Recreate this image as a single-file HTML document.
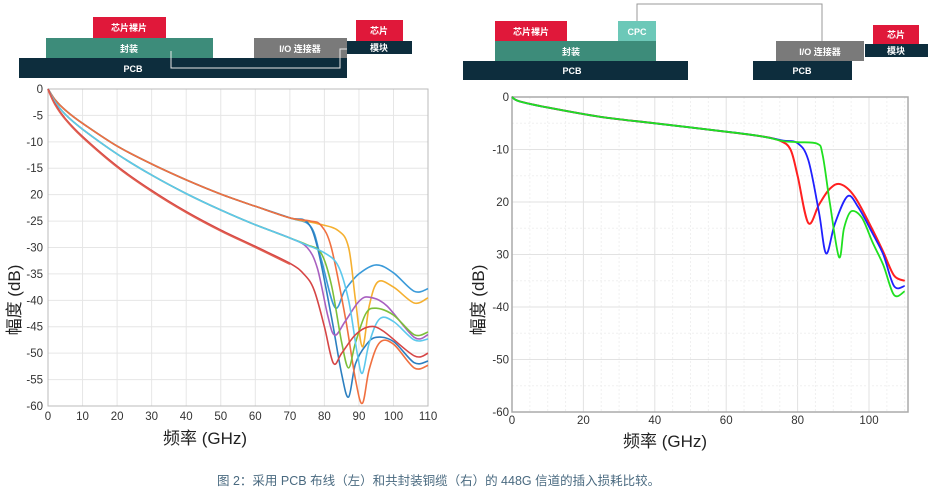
<!DOCTYPE html>
<html><head><meta charset="utf-8"><style>
html,body{margin:0;padding:0;background:#fff;width:932px;height:499px;overflow:hidden}
svg{display:block}
text{font-family:"Liberation Sans","Noto Sans CJK SC",sans-serif}
</style></head><body>
<svg id="s" width="932" height="499" viewBox="0 0 932 499" xmlns="http://www.w3.org/2000/svg">
<!-- left diagram -->
<rect x="93" y="17" width="73" height="21" fill="#e0183a"/>
<text x="129" y="31" font-size="9" fill="#fff" font-weight="bold" text-anchor="middle">芯片裸片</text>
<rect x="46" y="38" width="167" height="20" fill="#3d8c7a"/>
<text x="129" y="52" font-size="9" fill="#fff" font-weight="bold" text-anchor="middle">封装</text>
<rect x="19" y="58" width="328" height="20" fill="#0d2d3d"/>
<text x="133" y="72" font-size="9" fill="#fff" font-weight="bold" text-anchor="middle">PCB</text>
<rect x="254" y="38" width="93" height="20" fill="#7a7a7a"/>
<text x="300" y="52" font-size="9" fill="#fff" font-weight="bold" text-anchor="middle">I/O 连接器</text>
<polyline points="171,51 171,68 340,68 340,49 347,49" fill="none" stroke="#e8e8e8" stroke-width="1"/>
<rect x="356" y="20" width="47" height="21" fill="#e0183a"/>
<text x="379" y="34" font-size="9" fill="#fff" font-weight="bold" text-anchor="middle">芯片</text>
<rect x="347" y="41" width="65" height="13" fill="#0d2d3d"/>
<text x="379" y="51" font-size="9" fill="#fff" font-weight="bold" text-anchor="middle">模块</text>
<!-- right diagram -->
<polyline points="637,21 637,4 822,4 822,41" fill="none" stroke="#999" stroke-width="1"/>
<rect x="495" y="21" width="72" height="20" fill="#e0183a"/>
<text x="531" y="35" font-size="9" fill="#fff" font-weight="bold" text-anchor="middle">芯片裸片</text>
<rect x="618" y="21" width="38" height="20" fill="#6cc8b8"/>
<text x="637" y="35" font-size="9" fill="#fff" font-weight="bold" text-anchor="middle">CPC</text>
<rect x="495" y="41" width="161" height="20" fill="#3d8c7a"/>
<text x="571" y="55" font-size="9" fill="#fff" font-weight="bold" text-anchor="middle">封装</text>
<rect x="463" y="61" width="225" height="19" fill="#0d2d3d"/>
<text x="572" y="74" font-size="9" fill="#fff" font-weight="bold" text-anchor="middle">PCB</text>
<rect x="753" y="61" width="99" height="19" fill="#0d2d3d"/>
<text x="802" y="74" font-size="9" fill="#fff" font-weight="bold" text-anchor="middle">PCB</text>
<rect x="776" y="41" width="88" height="20" fill="#7a7a7a"/>
<text x="820" y="55" font-size="9" fill="#fff" font-weight="bold" text-anchor="middle">I/O 连接器</text>
<rect x="873" y="25" width="46" height="19" fill="#e0183a"/>
<text x="896" y="38" font-size="9" fill="#fff" font-weight="bold" text-anchor="middle">芯片</text>
<rect x="865" y="44" width="63" height="13" fill="#0d2d3d"/>
<text x="896" y="54" font-size="9" fill="#fff" font-weight="bold" text-anchor="middle">模块</text>

<g id="L"></g><g id="R"></g>

<text transform="translate(20,300) rotate(-90)" font-size="17" fill="#222" text-anchor="middle">幅度 (dB)</text>
<text x="205" y="444" font-size="17" fill="#222" text-anchor="middle">频率 (GHz)</text>
<text transform="translate(484,300) rotate(-90)" font-size="17" fill="#222" text-anchor="middle">幅度 (dB)</text>
<text x="665" y="447" font-size="17" fill="#222" text-anchor="middle">频率 (GHz)</text>
<text x="217" y="485" font-size="12.5" fill="#4a6a80">图 2：采用 PCB 布线（左）和共封装铜缆（右）的 448G 信道的插入损耗比较。</text>
</svg>
<script>
var NS="http://www.w3.org/2000/svg";
function el(p,t,a,txt){var e=document.createElementNS(NS,t);for(var k in a)e.setAttribute(k,a[k]);if(txt!==undefined)e.textContent=txt;p.appendChild(e);return e;}
function smooth(pts){var d="M"+pts[0][0].toFixed(1)+","+pts[0][1].toFixed(1);
for(var i=0;i<pts.length-1;i++){var p0=pts[i-1]||pts[i],p1=pts[i],p2=pts[i+1],p3=pts[i+2]||p2;
var c1=[p1[0]+(p2[0]-p0[0])/6,p1[1]+(p2[1]-p0[1])/6],c2=[p2[0]-(p3[0]-p1[0])/6,p2[1]-(p3[1]-p1[1])/6];
d+=" C"+c1[0].toFixed(1)+","+c1[1].toFixed(1)+" "+c2[0].toFixed(1)+","+c2[1].toFixed(1)+" "+p2[0].toFixed(1)+","+p2[1].toFixed(1);}return d;}
// LEFT
var L=document.getElementById("L");
var X=function(f){return 48+3.455*f},Y=function(d){return 89-5.283*d};
for(var f=10;f<=100;f+=10)el(L,"line",{x1:X(f),x2:X(f),y1:89,y2:406,stroke:"#e6e6e6"});
for(var d=-5;d>=-55;d-=5)el(L,"line",{x1:48,x2:428,y1:Y(d),y2:Y(d),stroke:"#e6e6e6"});
el(L,"rect",{x:48,y:89,width:380,height:317,fill:"none",stroke:"#bbb"});
for(var d=0;d>=-60;d-=5)el(L,"text",{x:43,y:Y(d)+4,"font-size":11.5,fill:"#333","text-anchor":"end"},d===-20?"20":String(d));
for(var f=0;f<=110;f+=10)el(L,"text",{x:X(f),y:420,"font-size":11.5,fill:"#333","text-anchor":"middle"},String(f));
var A=[[0,0],[2,-2],[5,-4],[10,-6.5],[20,-10.8],[30,-14.2],[40,-17.2],[50,-19.9],[60,-22.2],[70,-24.4]];
var B=[[0,0],[2,-2.4],[5,-4.8],[10,-7.6],[20,-12.3],[30,-16.3],[40,-19.8],[50,-22.9],[60,-25.7],[70,-28.2]];
var C=[[0,0],[2,-2.8],[5,-5.6],[10,-9],[20,-14.6],[30,-19.2],[40,-23.2],[50,-26.7],[60,-29.8],[70,-33]];
var curves=[
["#3a9ad9",A,[[76,-26],[79,-32],[83,-41.3],[86,-38],[90,-35],[95,-33.3],[100,-34.8],[106,-38.3],[110,-37.8]]],
["#f5b030",A,[[78,-25.5],[84,-26.8],[87,-30],[89,-40],[91,-48.8],[93,-41],[95.5,-36.5],[100,-37.5],[106,-40.5],[110,-39.5]]],
["#2c7fc0",A,[[75,-25.2],[78,-30],[82,-43],[85,-54],[87,-58.3],[89,-52],[92,-48.5],[95,-47],[100,-47.8],[106,-51.8],[110,-51.5]]],
["#f07040",A,[[76,-25],[79,-25.8],[82,-30],[86,-43],[89,-55],[91,-59.5],[93,-53],[96,-48],[100,-48.3],[106,-52.8],[110,-52.3]]],
["#a860c0",B,[[75,-30],[78,-34],[81,-43],[83,-46.6],[86,-44],[90,-40.2],[93,-39.4],[98,-41],[106,-47],[110,-46.5]]],
["#7cbf3a",B,[[75,-29.5],[79,-31],[82,-37],[85,-48],[87,-52.8],[89,-48],[92,-42.5],[95,-41.5],[100,-42.8],[106,-46.5],[110,-46]]],
["#5cc8ec",B,[[74,-29.3],[80,-31],[84,-33.5],[87,-40],[89.5,-50],[91,-53.8],[93,-48],[96,-43.5],[100,-44],[106,-47.5],[110,-47.3]]],
["#d64545",C,[[74,-35],[77,-38],[80,-45],[82.6,-51.9],[85,-50],[89,-46.5],[93,-45],[97,-45.8],[106,-50.5],[110,-50]]]
];
curves.forEach(function(c){var pts=c[1].concat(c[2]).map(function(p){return [X(p[0]),Y(p[1])]});
el(L,"path",{d:smooth(pts),fill:"none",stroke:c[0],"stroke-width":1.6});});
// C twin
var pts=C.map(function(p){return [X(p[0]),Y(p[1]-0.2)]});el(L,"path",{d:smooth(pts),fill:"none",stroke:"#e06050","stroke-width":1.4});
// RIGHT
var R=document.getElementById("R");
var X2=function(f){return 512+3.57*f},Y2=function(d){return 97-5.25*d};
for(var f=5;f<=110;f+=5)el(R,"line",{x1:X2(f),x2:X2(f),y1:97,y2:412,stroke:f%20==0?"#e2e2e2":"#f0f0f0","stroke-dasharray":f%20==0?"":"2,2"});
for(var d=-5;d>=-55;d-=5)el(R,"line",{x1:512,x2:908,y1:Y2(d),y2:Y2(d),stroke:d%10==0?"#e2e2e2":"#f0f0f0","stroke-dasharray":d%10==0?"":"2,2"});
el(R,"rect",{x:512,y:97,width:396,height:315,fill:"none",stroke:"#aaa","stroke-width":1.5});
var yl={0:"0","-10":"-10","-20":"20","-30":"30","-40":"-40","-50":"-50","-60":"-60"};
for(var d=0;d>=-60;d-=10)el(R,"text",{x:509,y:Y2(d)+4,"font-size":11.5,fill:"#333","text-anchor":"end"},yl[d]);
for(var f=0;f<=100;f+=20)el(R,"text",{x:X2(f),y:424,"font-size":11.5,fill:"#333","text-anchor":"middle"},String(f));
var base=[[0,0],[2,-0.8],[10,-2],[25,-3.8],[40,-5],[60,-6.6],[70,-7.5]];
var rc=[
["#ff2020",[[75,-8.3],[78,-10],[80,-15],[83,-24],[86,-20.5],[89,-17.5],[92,-16.6],[96,-19],[101,-25.3],[104,-29.5],[107,-34],[110,-35]]],
["#2020ff",[[76,-8.3],[80,-8.8],[83,-12],[86,-22],[88,-29.8],[90.5,-24],[94,-18.9],[97,-21],[101,-26],[104,-30],[107,-36],[110,-36]]],
["#20e020",[[76,-8.4],[80,-8.6],[85.5,-8.9],[87,-11],[89,-20],[91.6,-30.5],[93,-25],[95,-21.8],[98,-23],[101,-27.7],[104,-32],[107,-37.7],[110,-37]]]
];
rc.forEach(function(c,i){var pts=base.concat(c[1]).map(function(p){return [X2(p[0]),Y2(p[1])]});
el(R,"path",{d:smooth(pts),fill:"none",stroke:c[0],"stroke-width":i==0?2:1.8});});
</script>
</body></html>
